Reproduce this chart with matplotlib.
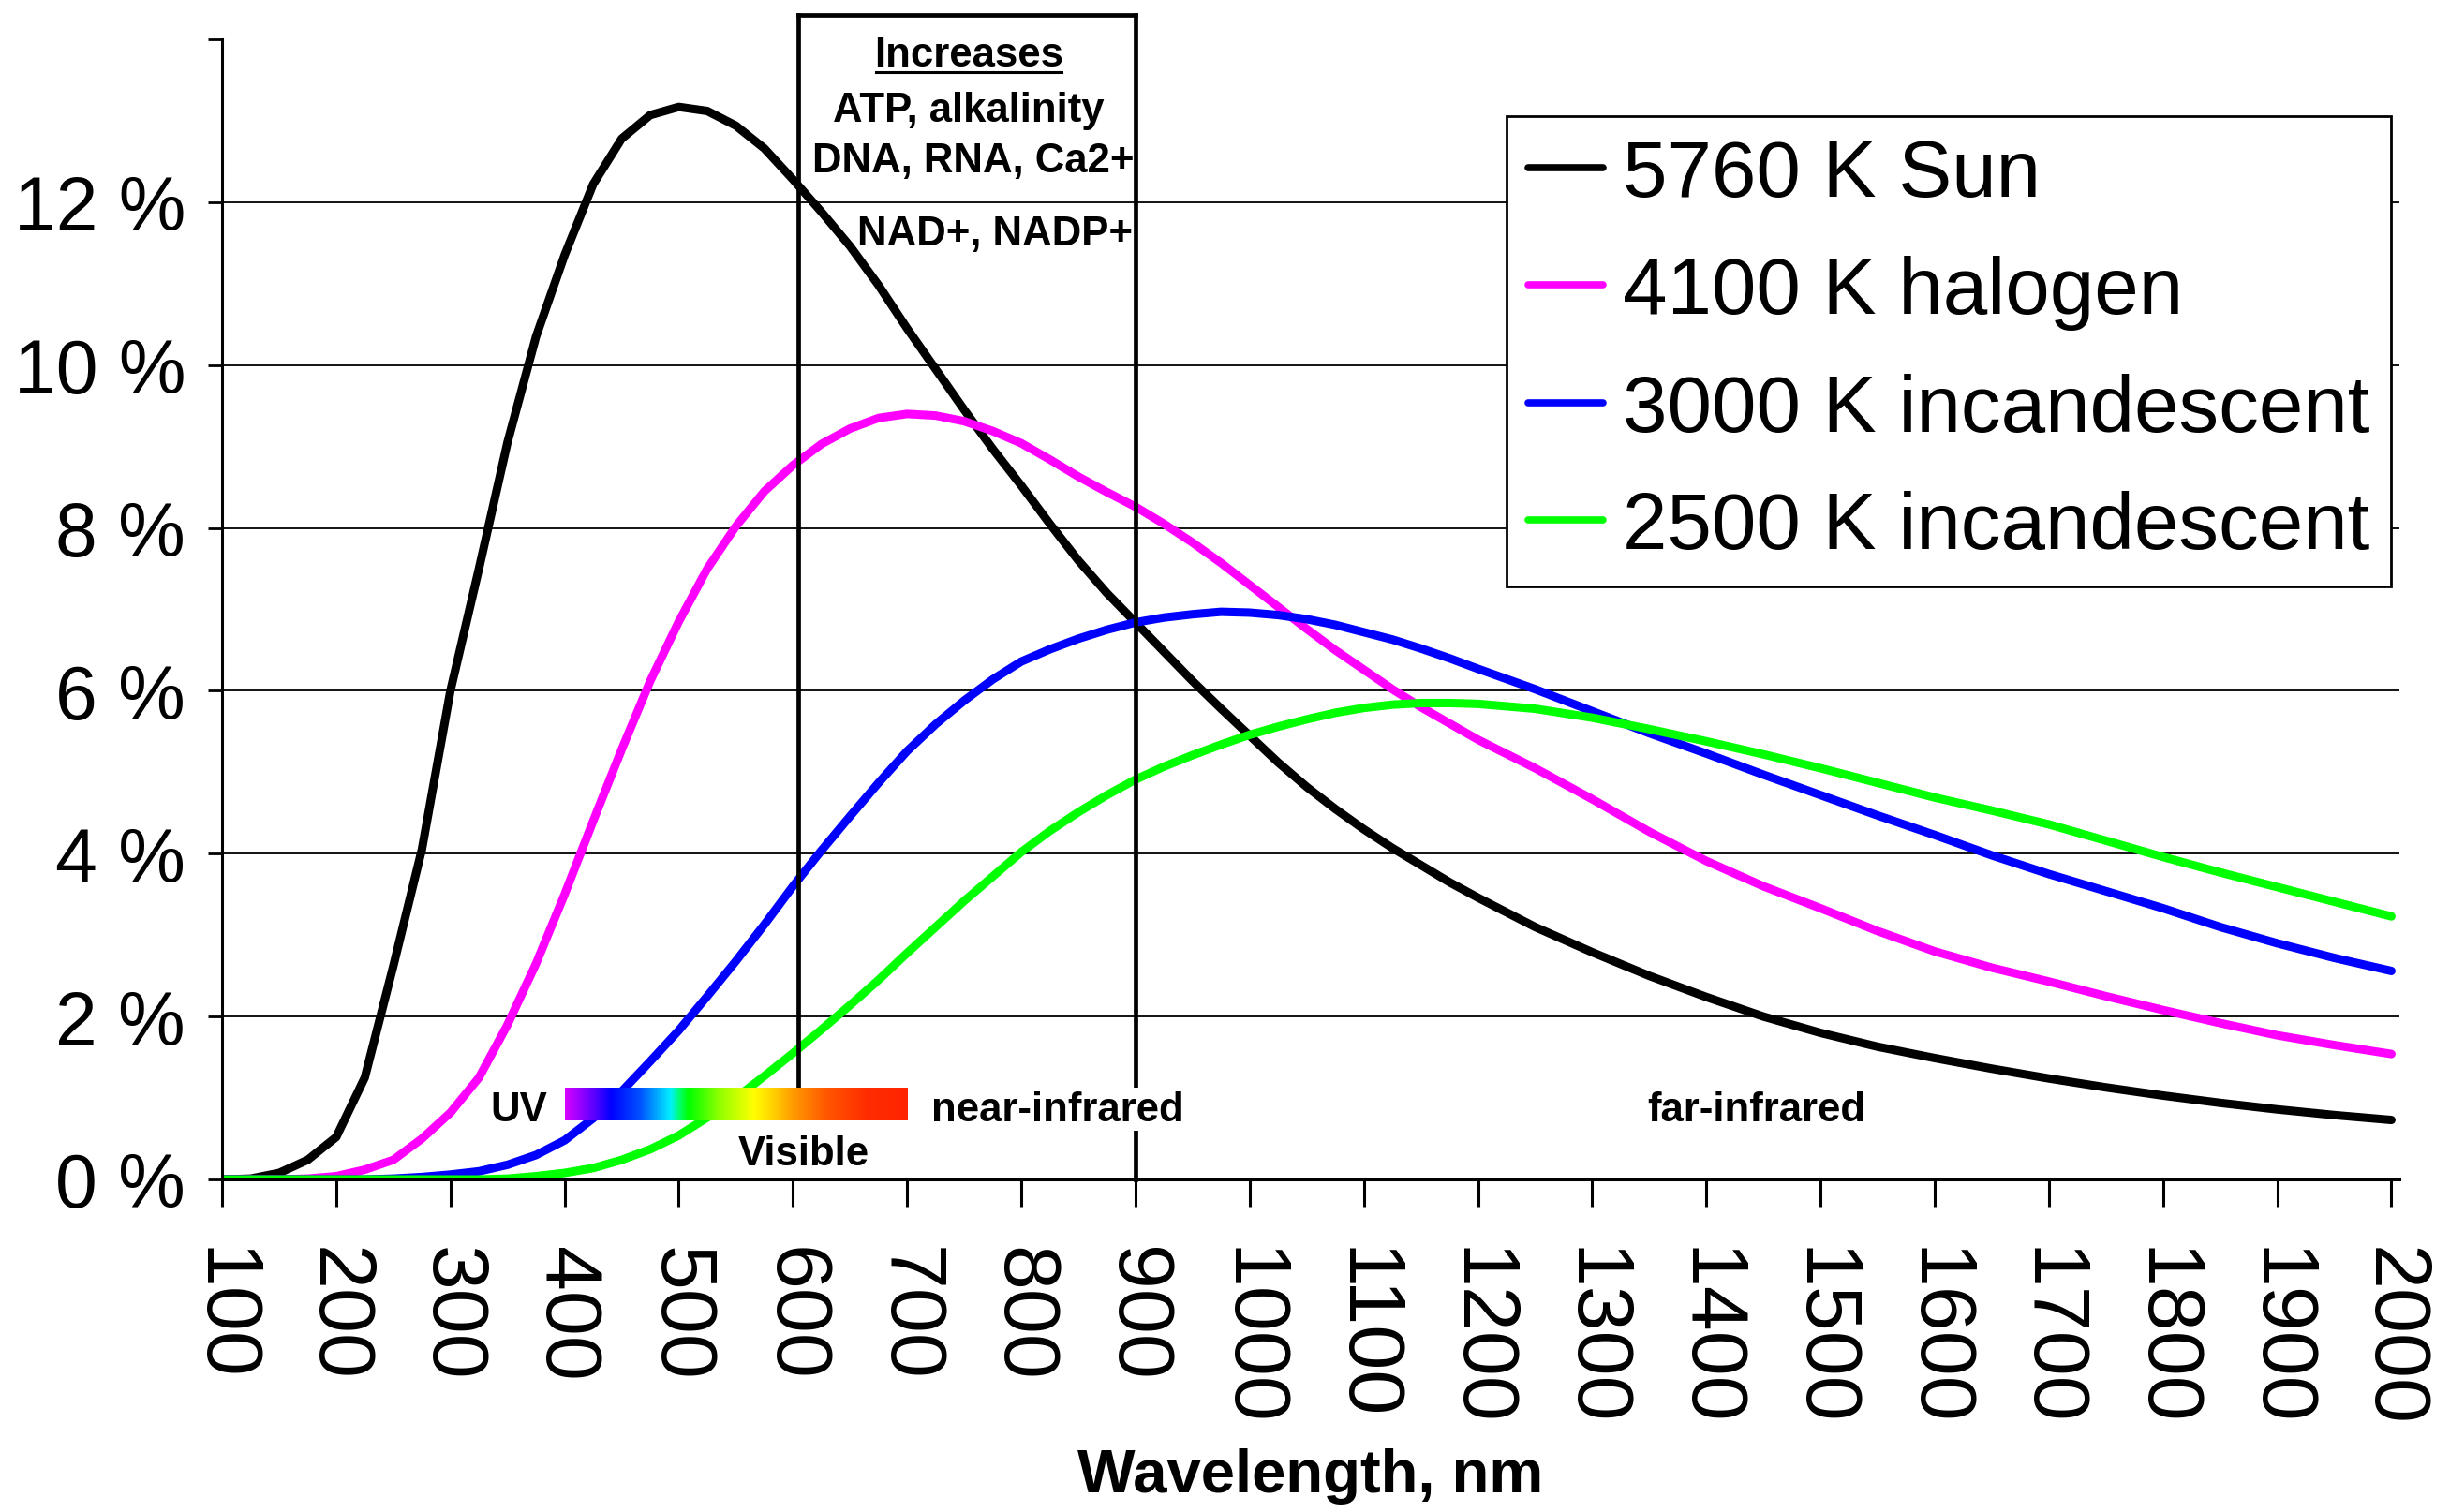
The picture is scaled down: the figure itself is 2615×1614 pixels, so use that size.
import numpy as np
import matplotlib
matplotlib.use("Agg")
import matplotlib.pyplot as plt
from matplotlib.colors import LinearSegmentedColormap
from matplotlib.lines import Line2D
from matplotlib.transforms import IdentityTransform

plt.rcParams['font.family'] = ['Liberation Sans', 'DejaVu Sans']

# ---------------- data ----------------
wavelength_nm = [100, 125, 150, 175, 200, 225, 250, 275, 300, 325, 350, 375, 400, 425, 450,
                 475, 500, 525, 550, 575, 600, 625, 650, 675, 700, 725, 750, 775, 800, 825,
                 850, 875, 900, 925, 950, 975, 1000, 1025, 1050, 1075, 1100, 1125, 1150, 1175, 1200,
                 1250, 1300, 1350, 1400, 1450, 1500, 1550, 1600, 1650, 1700, 1750, 1800, 1850,
                 1900, 1950, 2000]

sun_5760k = [0.00, 0.01, 0.08, 0.24, 0.52, 1.25, 2.62, 4.05, 6.00, 7.50, 9.05, 10.35, 11.35, 12.22, 12.78,
             13.07, 13.17, 13.12, 12.94, 12.66, 12.28, 11.88, 11.46, 10.98, 10.45, 9.95, 9.45, 8.97, 8.52, 8.05,
             7.60, 7.20, 6.84, 6.48, 6.12, 5.78, 5.45, 5.12, 4.82, 4.55, 4.30, 4.07, 3.86, 3.65, 3.46,
             3.10, 2.79, 2.50, 2.24, 2.00, 1.80, 1.63, 1.49, 1.36, 1.24, 1.13, 1.03, 0.94,
             0.86, 0.79, 0.73]

halogen_4100k = [0.00, 0.00, 0.00, 0.01, 0.04, 0.12, 0.24, 0.50, 0.82, 1.25, 1.90, 2.65, 3.50, 4.40, 5.28,
                 6.12, 6.85, 7.50, 8.02, 8.45, 8.77, 9.03, 9.22, 9.35, 9.40, 9.38, 9.31, 9.19, 9.04, 8.84,
                 8.63, 8.44, 8.26, 8.05, 7.82, 7.57, 7.30, 7.03, 6.76, 6.50, 6.26, 6.02, 5.80, 5.60, 5.40,
                 5.05, 4.67, 4.27, 3.91, 3.60, 3.33, 3.05, 2.80, 2.60, 2.43, 2.25, 2.08, 1.92,
                 1.77, 1.65, 1.54]

incand_3000k = [0.00, 0.00, 0.00, 0.00, 0.00, 0.00, 0.01, 0.03, 0.06, 0.10, 0.18, 0.30, 0.48, 0.75, 1.08,
                1.45, 1.83, 2.25, 2.68, 3.13, 3.60, 4.04, 4.46, 4.87, 5.26, 5.59, 5.88, 6.14, 6.36, 6.51,
                6.64, 6.75, 6.84, 6.90, 6.94, 6.97, 6.96, 6.93, 6.88, 6.81, 6.72, 6.63, 6.52, 6.40, 6.27,
                6.02, 5.75, 5.48, 5.23, 4.97, 4.72, 4.47, 4.23, 3.98, 3.75, 3.54, 3.33, 3.10,
                2.90, 2.72, 2.56]

incand_2500k = [0.00, 0.00, 0.00, 0.00, 0.00, 0.00, 0.00, 0.00, 0.00, 0.00, 0.01, 0.04, 0.08, 0.14, 0.24,
                0.37, 0.54, 0.76, 1.00, 1.27, 1.55, 1.84, 2.14, 2.45, 2.78, 3.10, 3.42, 3.72, 4.02, 4.28,
                4.51, 4.72, 4.91, 5.07, 5.21, 5.34, 5.46, 5.56, 5.65, 5.73, 5.79, 5.83, 5.85, 5.85, 5.84,
                5.78, 5.67, 5.53, 5.38, 5.22, 5.05, 4.87, 4.69, 4.53, 4.36, 4.16, 3.96, 3.77,
                3.59, 3.41, 3.23]

series_labels = ["5760 K Sun", "4100 K halogen", "3000 K incandescent", "2500 K incandescent"]
series_colors = ["#000000", "#ff00ff", "#0000ff", "#00ff00"]

x_ticks = [100, 200, 300, 400, 500, 600, 700, 800, 900, 1000, 1100, 1200, 1300, 1400, 1500,
           1600, 1700, 1800, 1900, 2000]
y_ticks = [0, 2, 4, 6, 8, 10, 12, 14]
y_tick_labels = ["0 %", "2 %", "4 %", "6 %", "8 %", "10 %", "12 %", ""]

box_left_nm, box_right_nm = 605, 900
box_lines = ["ATP, alkalinity", "DNA, RNA, Ca2+"]
visible_band_nm = (400, 700)
spectrum_stops_nm = [400, 425, 440, 465, 480, 492, 500, 508, 535, 565, 580, 600, 630, 665, 700]
spectrum_stop_colors = ['#d400ff', '#5a00ff', '#0000ff', '#0050ff', '#00a8ff', '#00f0ff', '#00ff70',
                        '#00ff00', '#90ff00', '#ffff00', '#ffd800', '#ff9a00', '#ff5500', '#ff2c00',
                        '#ff2400']

# ---------------- figure ----------------
W, H = 2615, 1615
fig = plt.figure(figsize=(W / 100, H / 100), dpi=100)
ax = fig.add_axes([237 / W, 1 - 1260 / H, (2561 - 237) / W, (1260 - 43) / H])

# gridlines (2..12 %)
for v in y_ticks[1:-1]:
    ax.axhline(v, color='black', lw=1.3, zorder=1)

series = [sun_5760k, halogen_4100k, incand_3000k, incand_2500k]
for vals, lab, col in zip(series, series_labels, series_colors):
    ax.plot(wavelength_nm, vals, color=col, lw=6.5, label=lab, zorder=3,
            solid_joinstyle='round', solid_capstyle='round')

# box lines
top_y = 14.30
bar_lo, bar_hi = 0.72, 1.12
ax.plot([box_left_nm, box_left_nm], [bar_hi, top_y], color='black', lw=3.4, zorder=4, clip_on=False)
ax.plot([box_right_nm, box_right_nm], [0, top_y], color='black', lw=3.4, zorder=4, clip_on=False)
ax.plot([box_left_nm, box_right_nm], [top_y, top_y], color='black', lw=3.4, zorder=4, clip_on=False,
        solid_capstyle='projecting')

# spectrum bar
pos = [(s - spectrum_stops_nm[0]) / (spectrum_stops_nm[-1] - spectrum_stops_nm[0]) for s in spectrum_stops_nm]
cmap = LinearSegmentedColormap.from_list('spec', list(zip(pos, spectrum_stop_colors)))
grad = np.linspace(0, 1, 600).reshape(1, -1)
ax.imshow(grad, extent=[visible_band_nm[0], visible_band_nm[1], bar_lo, bar_hi], aspect='auto',
          cmap=cmap, zorder=6, interpolation='bilinear')

# region labels
lab_kw = dict(fontsize=31.5, fontweight='bold', zorder=8)
ax.text(385, 0.73, "UV", ha='right', va='baseline', **lab_kw)
ax.text(721, 0.73, "near-infrared", ha='left', va='baseline',
        bbox=dict(facecolor='white', edgecolor='none', pad=1.5), **lab_kw)
ax.text(609, 0.18, "Visible", ha='center', va='baseline', **lab_kw)
ax.text(1444, 0.72, "far-infrared", ha='center', va='baseline', **lab_kw)

# box text
box_kw = dict(fontsize=31.5, fontweight='bold', zorder=8, clip_on=False)
t_inc = ax.text(754, 13.68, "Increases", ha='center', va='baseline', **box_kw)
ax.text(754, 13.00, box_lines[0], ha='center', va='baseline', **box_kw)
ax.text(758, 12.38, box_lines[1], ha='center', va='baseline', **box_kw)
ax.text(777, 11.48, "NAD+, NADP+", ha='center', va='baseline', **box_kw)

# axes styling
ax.set_xlim(100, 2007)
ax.set_ylim(0, 14)
for s in ['top', 'right']:
    ax.spines[s].set_visible(False)
for s in ['left', 'bottom']:
    ax.spines[s].set_linewidth(2.2)
    ax.spines[s].set_zorder(7)
ax.set_xticks(x_ticks)
ax.set_xticklabels([str(v) for v in x_ticks], rotation=270, fontsize=62)
ax.set_yticks(y_ticks)
ax.set_yticklabels(y_tick_labels, fontsize=58)
ax.tick_params(axis='x', length=21, width=2.2, pad=30, direction='out')
ax.tick_params(axis='y', length=11, width=2.0, pad=17, direction='out')

fig.text((237 + 2561) / 2 / W, 1 - 1576 / H, "Wavelength, nm", ha='center', va='center',
         fontsize=47, fontweight='bold')

leg = ax.legend(loc='upper right', bbox_to_anchor=((2000 - 100) / (2007 - 100), (1260 - 125) / (1260 - 43)),
                borderaxespad=0, fontsize=61.5, frameon=True, fancybox=False, framealpha=1,
                edgecolor='black', handlelength=0.93, handletextpad=0.25, borderpad=0.27,
                labelspacing=0.53)
leg.get_frame().set_linewidth(2.0)
leg.set_zorder(10)
for h in leg.get_lines():
    h.set_linewidth(5.5)

# underline for "Increases"
fig.canvas.draw()
r = fig.canvas.get_renderer()
bb = t_inc.get_window_extent(r)
base_y = ax.transData.transform((754, 13.68))[1]
fig.add_artist(Line2D([bb.x0 + 2, bb.x1 - 2], [base_y - 7, base_y - 7], transform=IdentityTransform(),
                      color='black', lw=2.2))

fig.savefig("out.png", dpi=100)
